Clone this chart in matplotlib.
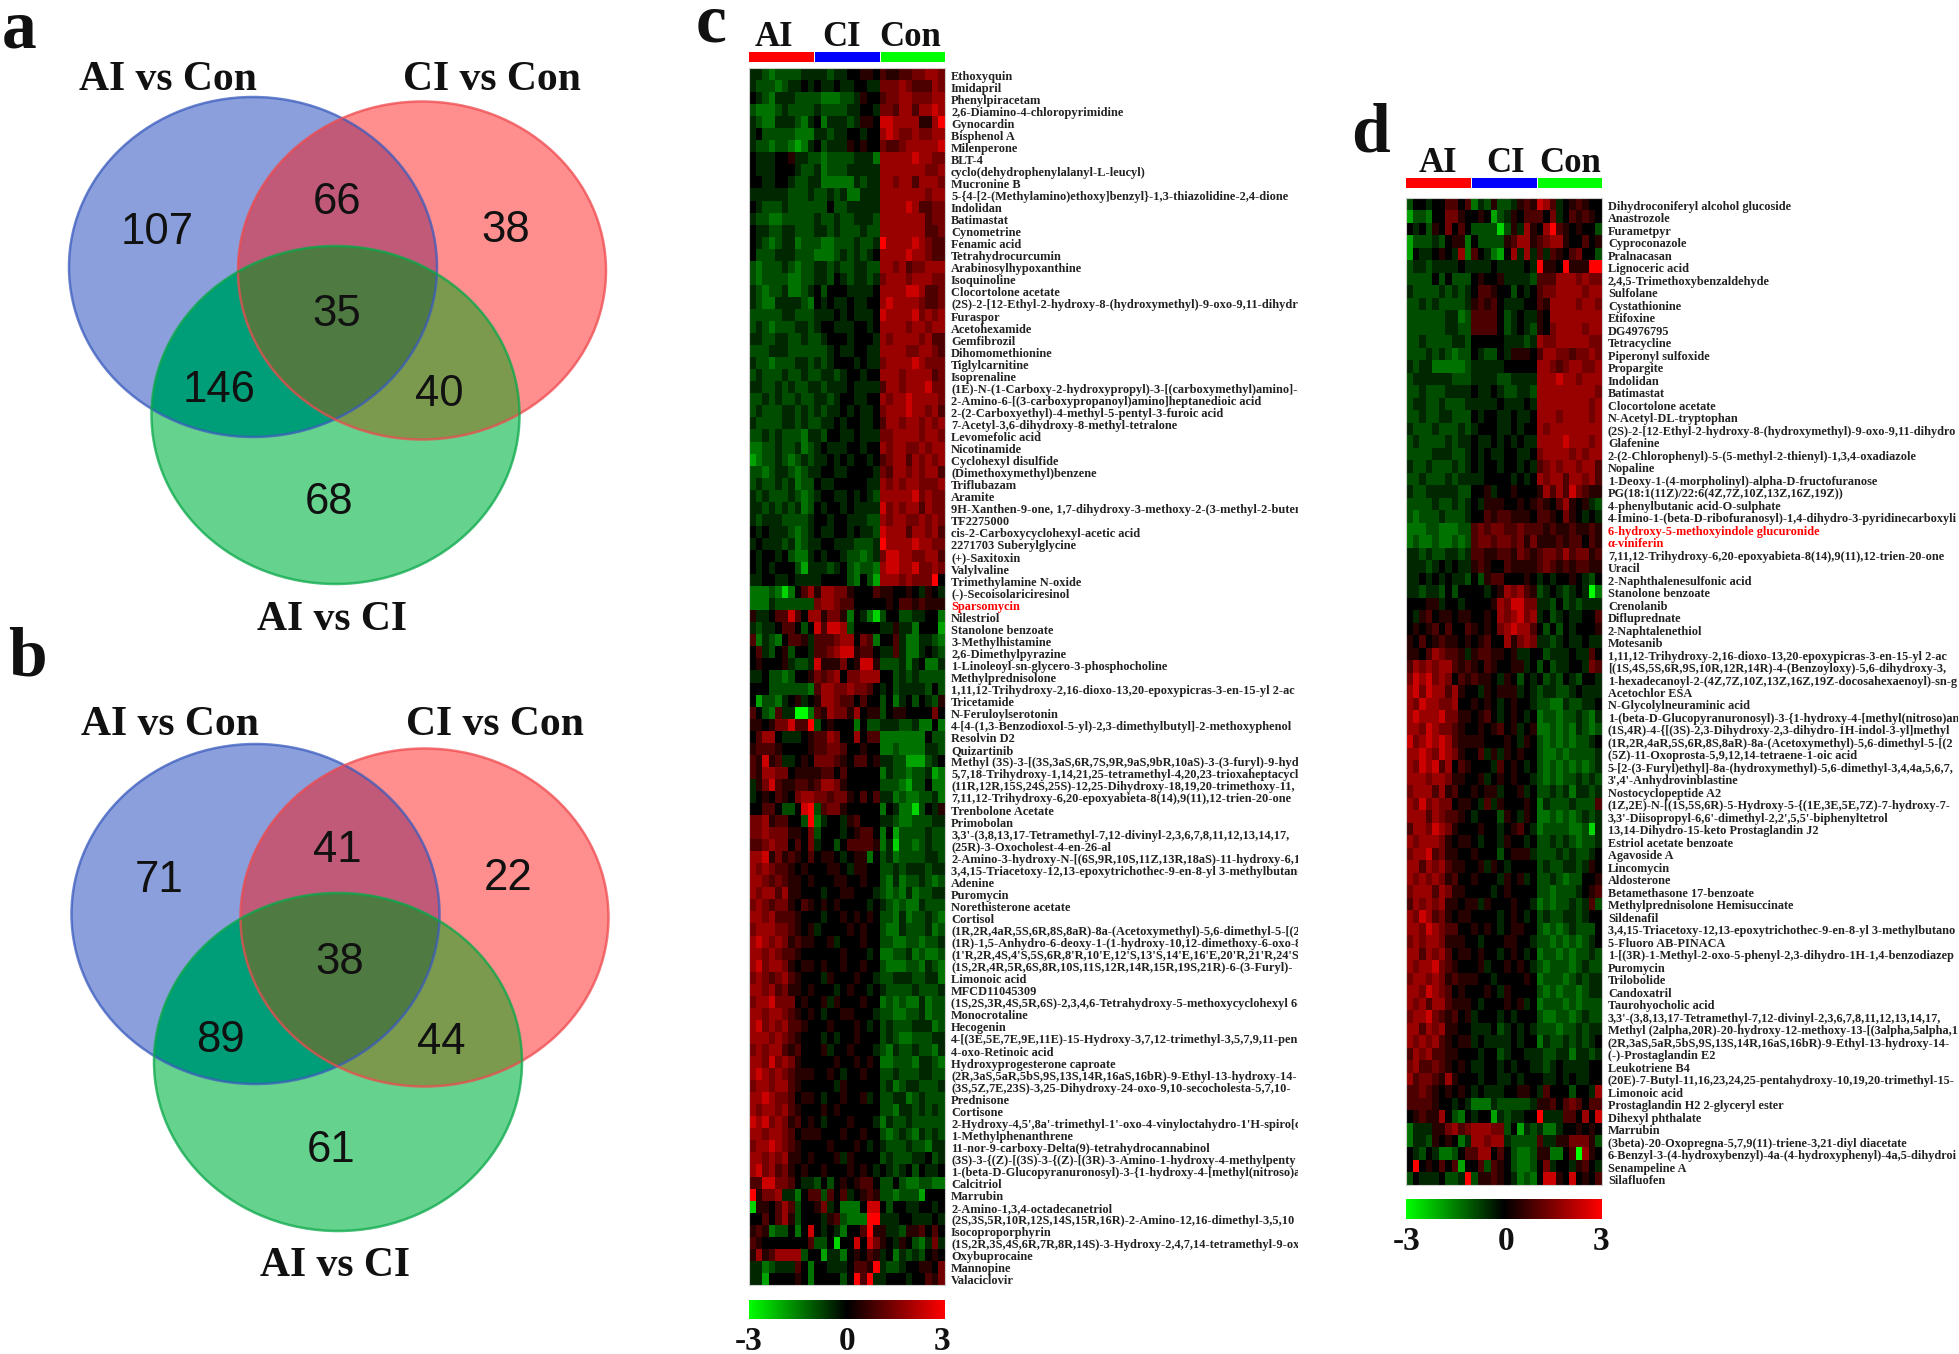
import numpy as np
import matplotlib
matplotlib.use("Agg")
import matplotlib.pyplot as plt
from matplotlib.colors import LinearSegmentedColormap
from matplotlib.patches import Ellipse, Polygon, Rectangle

W, H = 1959, 1354
SERIF = "Liberation Serif"
SANS = "Liberation Sans"

# ---------- data ----------
venn_names = ["AI vs Con", "CI vs Con", "AI vs CI"]
venn_a_counts = [107, 66, 38, 35, 146, 40, 68]
venn_b_counts = [71, 41, 22, 38, 89, 44, 61]
groups = ["AI", "CI", "Con"]
scale_ticks = [-3, 0, 3]

labels_c = [
"Ethoxyquin","Imidapril","Phenylpiracetam","2,6-Diamino-4-chloropyrimidine","Gynocardin","Bisphenol A","Milenperone","BLT-4",
"cyclo(dehydrophenylalanyl-L-leucyl)","Mucronine B","5-{4-[2-(Methylamino)ethoxy]benzyl}-1,3-thiazolidine-2,4-dione","Indolidan",
"Batimastat","Cynometrine","Fenamic acid","Tetrahydrocurcumin","Arabinosylhypoxanthine","Isoquinoline","Clocortolone acetate",
"(2S)-2-[12-Ethyl-2-hydroxy-8-(hydroxymethyl)-9-oxo-9,11-dihydro","Furaspor","Acetohexamide","Gemfibrozil","Dihomomethionine",
"Tiglylcarnitine","Isoprenaline","(1E)-N-(1-Carboxy-2-hydroxypropyl)-3-[(carboxymethyl)amino]-5",
"2-Amino-6-[(3-carboxypropanoyl)amino]heptanedioic acid","2-(2-Carboxyethyl)-4-methyl-5-pentyl-3-furoic acid",
"7-Acetyl-3,6-dihydroxy-8-methyl-tetralone","Levomefolic acid","Nicotinamide","Cyclohexyl disulfide","(Dimethoxymethyl)benzene",
"Triflubazam","Aramite","9H-Xanthen-9-one, 1,7-dihydroxy-3-methoxy-2-(3-methyl-2-butenyl","TF2275000",
"cis-2-Carboxycyclohexyl-acetic acid","2271703 Suberylglycine","(+)-Saxitoxin","Valylvaline","Trimethylamine N-oxide",
"(-)-Secoisolariciresinol","Sparsomycin","Nilestriol","Stanolone benzoate","3-Methylhistamine","2,6-Dimethylpyrazine",
"1-Linoleoyl-sn-glycero-3-phosphocholine","Methylprednisolone","1,11,12-Trihydroxy-2,16-dioxo-13,20-epoxypicras-3-en-15-yl 2-ac",
"Tricetamide","N-Feruloylserotonin","4-[4-(1,3-Benzodioxol-5-yl)-2,3-dimethylbutyl]-2-methoxyphenol","Resolvin D2","Quizartinib",
"Methyl (3S)-3-[(3S,3aS,6R,7S,9R,9aS,9bR,10aS)-3-(3-furyl)-9-hyd","5,7,18-Trihydroxy-1,14,21,25-tetramethyl-4,20,23-trioxaheptacyclo",
"(11R,12R,15S,24S,25S)-12,25-Dihydroxy-18,19,20-trimethoxy-11,","7,11,12-Trihydroxy-6,20-epoxyabieta-8(14),9(11),12-trien-20-one",
"Trenbolone Acetate","Primobolan","3,3'-(3,8,13,17-Tetramethyl-7,12-divinyl-2,3,6,7,8,11,12,13,14,17,","(25R)-3-Oxocholest-4-en-26-al",
"2-Amino-3-hydroxy-N-[(6S,9R,10S,11Z,13R,18aS)-11-hydroxy-6,1","3,4,15-Triacetoxy-12,13-epoxytrichothec-9-en-8-yl 3-methylbutano",
"Adenine","Puromycin","Norethisterone acetate","Cortisol","(1R,2R,4aR,5S,6R,8S,8aR)-8a-(Acetoxymethyl)-5,6-dimethyl-5-[(2",
"(1R)-1,5-Anhydro-6-deoxy-1-(1-hydroxy-10,12-dimethoxy-6-oxo-8","(1'R,2R,4S,4'S,5S,6R,8'R,10'E,12'S,13'S,14'E,16'E,20'R,21'R,24'S)",
"(1S,2R,4R,5R,6S,8R,10S,11S,12R,14R,15R,19S,21R)-6-(3-Furyl)-","Limonoic acid","MFCD11045309",
"(1S,2S,3R,4S,5R,6S)-2,3,4,6-Tetrahydroxy-5-methoxycyclohexyl 6-","Monocrotaline","Hecogenin",
"4-[(3E,5E,7E,9E,11E)-15-Hydroxy-3,7,12-trimethyl-3,5,7,9,11-pen","4-oxo-Retinoic acid","Hydroxyprogesterone caproate",
"(2R,3aS,5aR,5bS,9S,13S,14R,16aS,16bR)-9-Ethyl-13-hydroxy-14-","(3S,5Z,7E,23S)-3,25-Dihydroxy-24-oxo-9,10-secocholesta-5,7,10-",
"Prednisone","Cortisone","2-Hydroxy-4,5',8a'-trimethyl-1'-oxo-4-vinyloctahydro-1'H-spiro[cy","1-Methylphenanthrene",
"11-nor-9-carboxy-Delta(9)-tetrahydrocannabinol","(3S)-3-{(Z)-[(3S)-3-{(Z)-[(3R)-3-Amino-1-hydroxy-4-methylpenty",
"1-(beta-D-Glucopyranuronosyl)-3-{1-hydroxy-4-[methyl(nitroso)an","Calcitriol","Marrubin","2-Amino-1,3,4-octadecanetriol",
"(2S,3S,5R,10R,12S,14S,15R,16R)-2-Amino-12,16-dimethyl-3,5,10","Isocoproporphyrin",
"(1S,2R,3S,4S,6R,7R,8R,14S)-3-Hydroxy-2,4,7,14-tetramethyl-9-ox","Oxybuprocaine","Mannopine","Valaciclovir",
]
labels_d = [
"Dihydroconiferyl alcohol glucoside","Anastrozole","Furametpyr","Cyproconazole","Pralnacasan","Lignoceric acid",
"2,4,5-Trimethoxybenzaldehyde","Sulfolane","Cystathionine","Etifoxine","DG4976795","Tetracycline","Piperonyl sulfoxide","Propargite",
"Indolidan","Batimastat","Clocortolone acetate","N-Acetyl-DL-tryptophan","(2S)-2-[12-Ethyl-2-hydroxy-8-(hydroxymethyl)-9-oxo-9,11-dihydro",
"Glafenine","2-(2-Chlorophenyl)-5-(5-methyl-2-thienyl)-1,3,4-oxadiazole","Nopaline","1-Deoxy-1-(4-morpholinyl)-alpha-D-fructofuranose",
"PG(18:1(11Z)/22:6(4Z,7Z,10Z,13Z,16Z,19Z))","4-phenylbutanic acid-O-sulphate","4-Imino-1-(beta-D-ribofuranosyl)-1,4-dihydro-3-pyridinecarboxyli",
"6-hydroxy-5-methoxyindole glucuronide","α-viniferin","7,11,12-Trihydroxy-6,20-epoxyabieta-8(14),9(11),12-trien-20-one","Uracil",
"2-Naphthalenesulfonic acid","Stanolone benzoate","Crenolanib","Difluprednate","2-Naphtalenethiol","Motesanib",
"1,11,12-Trihydroxy-2,16-dioxo-13,20-epoxypicras-3-en-15-yl 2-ac","[(1S,4S,5S,6R,9S,10R,12R,14R)-4-(Benzoyloxy)-5,6-dihydroxy-3,",
"1-hexadecanoyl-2-(4Z,7Z,10Z,13Z,16Z,19Z-docosahexaenoyl)-sn-g","Acetochlor ESA","N-Glycolylneuraminic acid",
"1-(beta-D-Glucopyranuronosyl)-3-{1-hydroxy-4-[methyl(nitroso)an","(1S,4R)-4-{[(3S)-2,3-Dihydroxy-2,3-dihydro-1H-indol-3-yl]methyl",
"(1R,2R,4aR,5S,6R,8S,8aR)-8a-(Acetoxymethyl)-5,6-dimethyl-5-[(2","(5Z)-11-Oxoprosta-5,9,12,14-tetraene-1-oic acid",
"5-[2-(3-Furyl)ethyl]-8a-(hydroxymethyl)-5,6-dimethyl-3,4,4a,5,6,7,","3',4'-Anhydrovinblastine","Nostocyclopeptide A2",
"(1Z,2E)-N-[(1S,5S,6R)-5-Hydroxy-5-{(1E,3E,5E,7Z)-7-hydroxy-7-","3,3'-Diisopropyl-6,6'-dimethyl-2,2',5,5'-biphenyltetrol",
"13,14-Dihydro-15-keto Prostaglandin J2","Estriol acetate benzoate","Agavoside A","Lincomycin","Aldosterone","Betamethasone 17-benzoate",
"Methylprednisolone Hemisuccinate","Sildenafil","3,4,15-Triacetoxy-12,13-epoxytrichothec-9-en-8-yl 3-methylbutano","5-Fluoro AB-PINACA",
"1-[(3R)-1-Methyl-2-oxo-5-phenyl-2,3-dihydro-1H-1,4-benzodiazep","Puromycin","Trilobolide","Candoxatril","Taurohyocholic acid",
"3,3'-(3,8,13,17-Tetramethyl-7,12-divinyl-2,3,6,7,8,11,12,13,14,17,","Methyl (2alpha,20R)-20-hydroxy-12-methoxy-13-[(3alpha,5alpha,1",
"(2R,3aS,5aR,5bS,9S,13S,14R,16aS,16bR)-9-Ethyl-13-hydroxy-14-","(-)-Prostaglandin E2","Leukotriene B4",
"(20E)-7-Butyl-11,16,23,24,25-pentahydroxy-10,19,20-trimethyl-15-","Limonoic acid","Prostaglandin H2 2-glyceryl ester","Dihexyl phthalate",
"Marrubin","(3beta)-20-Oxopregna-5,7,9(11)-triene-3,21-diyl diacetate","6-Benzyl-3-(4-hydroxybenzyl)-4a-(4-hydroxyphenyl)-4a,5-dihydroi",
"Senampeline A","Silafluofen",
]
red_labels = ["Sparsomycin", "6-hydroxy-5-methoxyindole glucuronide", "α-viniferin"]

# cell values read by eye: one character per cell, decoded through cell_levels
cell_codes = "0123456789abc"
cell_levels = [-3, -2.5, -1.9, -1.35, -0.9, -0.45, 0, 0.45, 0.9, 1.35, 1.8, 2.4, 3]
heat_c = [
"5543444455 5545566776 8778899aa9","5444345565 6556556655 999a9888a9","6543555444 4333445766 899aa999aa",
"4333454444 5444455665 998aa8aaba","5433555435 6355545776 bbaaaa77ac","5644444333 5545566566 aba99a99aa",
"5443443235 6455576766 9889aaaaab","6555667554 4344445553 aaaaabaa99","6555666544 5344455555 aaaaaaa99a",
"6655665445 5333335455 aa9aa8aaa9","5555554445 4454533555 aaaaaaa9aa","6544454444 4464455555 aaaaba8899",
"5443344444 5445445554 aaaaaaa899","6554455444 5545444544 aaaaaaa889","6543455344 4334445445 caaaaba988",
"6444555444 3334545456 aaaabaa988","4344454344 5545445544 aa9a899aaa","4344443344 5546545545 9aaa9aaa99",
"5434453345 6466655556 aaaabba889","5433555543 6565565566 abaaaa9889","4444455444 5556565556 baaaab9a9a",
"4543444554 5665556656 aaaa9aa9aa","5544554454 4566656665 a9aaaa9a88","4445554444 4456556655 aaaa99aa98",
"5443444554 5456665655 9aaaaba999","4544454454 4554566566 aaa9aaaa89","5544545445 5455565555 8aa9aaab99",
"4454544544 5545665566 a9aabaaaa9","4544455454 5455656556 9aaabaa9a8","5444455454 4556566556 8aa9aa9a9a",
"4454544435 5466556555 99aaaa9aa9","3344544534 5655566566 a9aa99a9aa","2344543454 5565656656 89aa8a9a9a",
"4434554345 5665566665 98aa9a9aa8","4544545344 6556666655 a9a9aa999a","5454445434 5665565654 aaaaab9a99",
"5545454534 6566565555 b9a9aa8a99","5455544445 6656655544 a9aa99a9a9","6565554345 6556656554 baaa8aa9a8",
"5655545345 5665554445 caaaabaa99","6566564335 6566544345 9bbaa99aa8","6565666425 5545643443 abbaab99a9",
"5566556555 5666643642 aaa9a999c6","333431368a 7aa9976668 7766765765","3335444444 9aa9886666 6768878777",
"755688b86a a799736531 4664455663","5455688646 b8bba46666 5575536662","8354368875 8889aa6983 6685335543",
"6854674665 889abb7886 5585335654","6766675445 b777967bb7 4445356335","5564434667 989a699aaa 6645454444",
"6664444443 8aa99a9986 5645555464","6244356756 7aa9886866 4635646547","8643855003 87a997a677 4677666696",
"776799b88c 4676663644 5554453363","68aa655567 88a966a688 3333333644","7888766667 8899866766 3343333554",
"87b7855676 9998768867 5544222456","87aa996777 7886866666 3544344523","579b877887 8aa9766666 4443244633",
"567687 69aa 9989976868 5534334453","66886446bc 4899766666 3653314657","99a788664c 3566578666 5543344455",
"99a9997769 4666567886 3624444544","889a996869 5664688887 3514434544","aab7978768 6776567736 4534444554",
"a9a9887676 6677657766 4454555455","aa98987767 6667766766 4353445434","a9aa8a7766 6566776665 4343534455",
"9a98997687 6767666656 5434335444","aa9a888766 6566767676 4435344543","9aaa998767 5666676766 4335444534",
"aba9a97877 6675666766 4433443445","aa9a988766 6666766656 3344534334","ab9aa97677 6766766766 4333443543",
"9a989a8766 6576667665 4455544553","aa9a897767 6665676656 5444454445","9aab999676 6757666766 3434335344",
"aa9aa98767 6566776665 4433445344","ab9a9a8876 6676667656 4544455534","aaa9a98766 6565667666 4543344455",
"9a9aa87866 6756676665 4354454435","aa9b9a9766 6667667676 3344435543","aba9a98777 6676566766 4454445544",
"9aa9aa8766 6665766666 4534554445","aaba998677 6566766756 4455345444","a9aa9a8766 6767666666 4435545454",
"bab9a97867 6566676665 3544544444","aa9aa98677 7666766766 4345435454","9aaba98766 6676667656 5444544355",
"aa9a9a7767 6667576666 4544455645","ab9a897676 6766676765 6545646556","88bb998655 4646767886 4464334433",
"c799a55368 8486856787 4434442666","1776 8a8466 7956333 6bb 6466556656","66868a7466 6578433 3cc 5556655565",
"787344636b 6565366 8c7 7554778686","8766666668 4461 66b6b9 7657643595","7a78aaaa46 6255367687 5635454676",
"5534555863 66555688 7c 5445667769","5526666763 6666 46c8c5 5666566879",
]
heat_d = [
"4665668868 3547445787 ba85678766","2443669976 6762457688 8695687876","6564769686 44441475a7 6ac8767664",
"2444546773 6444478aa7 89aa766867","26556765a3 865326a5a5 8587689664","4554555565 5556555565 c776c777cc",
"4444646444 6766755554 888aaa9a99","5444454545 6887664656 899aaaa9aa","4454544445 7878655566 87aaaa9aa9",
"4444445534 8888645655 76aaaaaaaa","4444445544 8888645654 769aaaa9aa","4454444554 6666655545 a99aaaaa99",
"4445454344 6544657776 8aa99899a9","5455333334 5555566666 aa989aa99a","4555555444 5555445555 aaabaa9aaa",
"4454445555 6556544554 aaaaaaaaa9","4554454445 5555655565 aaaaaaaa9a","4454455444 6566556556 aaa9aaaa9a",
"5444544454 5666556566 a9aaaaaaaa","4544445455 6556565655 aaaabaaa9a","4444555445 6565566556 9aaaa9a9aa",
"5445444545 6566566565 89a9aa9aa8","4454445455 5566665656 a9aa8aa9a8","5445555544 6675667666 7a8a8b9877",
"4444544545 6577766767 8768a76754","4344454445 6687887776 8876976565","3334433344 8989988988 8787787787",
"3433433434 8998998979 7778788687","5545445545 8877887987 8998a89978","5554565655 7876687777 8987878877",
"5565656554 6478866676 5656676546","5545546466 66567a9a87 4565456503","6667756656 6667a9bb99 5546454555",
"6578677677 6676a9ab9a 5645655668","6767868668 76769abaa8 6464656667","7686787767 67866a79a9 5545655655",
"7768a98875 7887767556 6455565586","8a9a9aa878 7687667756 4645566598","9bab9a9687 8776576465 6454654665",
"ab9baa8a76 6576777565 4554456555","a9baa99a66 7676567665 4433544556","abaaab9977 6786567656 3443445435",
"aa9ba99876 6767867567 3343435434","b9ababa877 7766676576 4343434456","aaba9ba976 6857576766 4334344445",
"a9bab8a687 6665867656 4343434345","aaa9aa9776 6756767665 4343445454","9aaa8a7866 7677566756 4454535545",
"a9b9a99677 6585766676 3544454448","aaa8a98876 5666476576 3343434545","8aa9ba9766 6766567865 3444433415",
"a9aaa97677 6566576656 4454543445","9aab897766 7666467775 4445454456","aa8a9a8776 6757656666 4544554576",
"a9a9a97866 7666576756 4454344667","9aaa8a9776 6665676666 4434445678","8a9a9a7767 7576667665 3434454584",
"a9ba897677 6666567656 4544554566","aa9ba98866 7676567766 4343454446","9a9aa97776 6566677665 4434343456",
"aa8a9a8677 6766567656 3443434454","a9aab98766 6756676765 4344434544","9aa9a97877 7665666676 3444345455",
"aa9ba98676 6676576666 4343443455","a9a8aa8777 6566676756 3444343444","9aab987867 5666565666 4334434544",
"aa8a9a7766 5556456565 4443445455","a9a9a87677 5655556566 3544545456","8a9a887766 6566456655 5445535545",
"9a88987676 5566565665 5456555566","a89987a766 6566556566 6556565566","8898767676 5655566776 586664665a",
"8888766565 3335444445 7786898688","6787 7a6436 5662545566 c555886a6b","3555779a8 9 aaa994 6254 5335667676",
"3554767635 aa9aa54444 8557799974","6546533468 8aa6864334 7733680a76","6c6768682 6 6848764334 6956657865",
"465556445c 4778765343 6bb76b6768",
]

# ---------- layout helpers ----------
plt.rcParams["font.family"] = [SERIF, "DejaVu Serif"]
fig = plt.figure(figsize=(W / 100, H / 100), dpi=100, facecolor="white")


def px_axes(x0, y0, x1, y1):
    return fig.add_axes([x0 / W, 1 - y1 / H, (x1 - x0) / W, (y1 - y0) / H])


bg = px_axes(0, 0, W, H)
bg.set_xlim(0, W)
bg.set_ylim(H, 0)
bg.axis("off")

cmap = LinearSegmentedColormap.from_list("gbr", ["#00ff00", "#000000", "#ff0000"])


def decode(rows):
    return np.array([[cell_levels[cell_codes.index(ch)] for ch in r.replace(" ", "")] for r in rows])


def region(ells, p, n=720):
    """Outline of the convex overlap of the ellipses, seen from inner point p."""
    th = np.linspace(0, 2 * np.pi, n, endpoint=False)
    c, s = np.cos(th), np.sin(th)
    rmin = np.full(n, np.inf)
    for (cx, cy, rx, ry) in ells:
        dx, dy = (p[0] - cx) / rx, (p[1] - cy) / ry
        a = (c / rx) ** 2 + (s / ry) ** 2
        b = 2 * (dx * c / rx + dy * s / ry)
        k = dx ** 2 + dy ** 2 - 1
        r = (-b + np.sqrt(b ** 2 - 4 * a * k)) / (2 * a)
        rmin = np.minimum(rmin, r)
    return np.column_stack([p[0] + rmin * c, p[1] + rmin * s])


def venn(dx, dy, counts, name_pos, count_pos):
    B = (253 + dx, 267 + dy, 184, 170)
    R = (422 + dx, 270.5 + dy, 184, 169)
    G = (335.5 + dx, 415 + dy, 184, 169)
    fills = [(B, "#8A9FDB"), (R, "#FF8E8E"), (G, "#65D28D")]
    for (e, col) in fills:
        bg.add_patch(Ellipse(e[:2], 2 * e[2], 2 * e[3], fc=col, ec="none", zorder=2))
    bg.add_patch(Polygon(region([B, R], count_pos[1]), fc="#C05A78", ec="none", zorder=3))
    bg.add_patch(Polygon(region([B, G], count_pos[4]), fc="#009E78", ec="none", zorder=3))
    bg.add_patch(Polygon(region([R, G], count_pos[5]), fc="#7B9A4E", ec="none", zorder=3))
    bg.add_patch(Polygon(region([B, R, G], count_pos[3]), fc="#4F7A42", ec="none", zorder=4))
    for (e, col) in [(B, "#3A5BBE"), (R, "#EE4A4E"), (G, "#0AA84A")]:
        bg.add_patch(Ellipse(e[:2], 2 * e[2], 2 * e[3], fc="none", ec=col, lw=1.8, alpha=0.75, zorder=5))
    for v, (x, y) in zip(counts, count_pos):
        bg.text(x, y + 4, str(v), family=SANS, fontsize=31.5, ha="center", va="center", color="#111111", zorder=6)
    for nm, (x, y) in zip(venn_names, name_pos):
        bg.text(x, y + 4, nm, fontsize=30, fontweight="bold", ha="center", va="center", color="#111111", zorder=6)


venn(0, 0, venn_a_counts,
     [(168, 76), (492, 76), (332, 616)],
     [(157, 229), (337, 199), (506, 227), (337, 311), (219, 387), (439, 391), (329, 499)])
venn(2.5, 647, venn_b_counts,
     [(170, 721), (495, 721), (335, 1262)],
     [(159, 877), (337, 846), (508, 875), (340, 958), (221, 1036), (441, 1038), (331, 1147)])


def heatmap(rows, labels, box, bar_y, title_x, title_y, lab_x0, lab_x1, lab_fs, scale_y, tick_x, tick_y):
    x0, y0, x1, y1 = box
    data = decode(rows)
    ax = px_axes(x0, y0, x1, y1)
    ax.imshow(data, cmap=cmap, vmin=-3, vmax=3, aspect="auto", interpolation="nearest")
    ax.set_xticks([])
    ax.set_yticks([])
    for sp in ax.spines.values():
        sp.set_color("#cfcfcf")
        sp.set_linewidth(0.8)
    # sample-group strip and names
    n = data.shape[1] // len(groups)
    cw = (x1 - x0) / data.shape[1]
    for i, (g, col) in enumerate(zip(groups, ["#ff0000", "#0000ff", "#00ff00"])):
        bg.add_patch(Rectangle((x0 + i * n * cw + (1 if i else 0), bar_y[0]), n * cw - (1 if i else 0), bar_y[1] - bar_y[0],
                               fc=col, ec="none"))
        bg.text(title_x[i], title_y, g, fontsize=25, fontweight="bold", ha="center", va="center", color="#111111")
    # row labels
    la = px_axes(lab_x0, y0 + 2.5, lab_x1, y1 + 2.5)
    la.set_xlim(0, 1)
    la.set_ylim(len(labels) - 0.5, -0.5)
    la.axis("off")
    for i, t in enumerate(labels):
        la.text(0, i, t, fontsize=lab_fs, fontweight="bold", ha="left", va="center",
                color="#ff0000" if t in red_labels else "#222222", clip_on=True)
    # colour scale
    cb = px_axes(x0, scale_y[0], x1, scale_y[1])
    cb.imshow(np.linspace(-3, 3, 256)[None, :], cmap=cmap, vmin=-3, vmax=3, aspect="auto")
    cb.axis("off")
    for v, x in zip(scale_ticks, tick_x):
        bg.text(x, tick_y, str(v), fontsize=24, fontweight="bold", ha="center", va="center", color="#111111")


heatmap(heat_c, labels_c, (749, 68, 945, 1285), (52, 62), (774, 841, 910), 38,
        951, 1298, 8.9, (1300, 1319), (749, 847, 942), 1341)
heatmap(heat_d, labels_d, (1406, 198, 1602, 1185), (178, 188), (1438, 1506, 1570), 164,
        1608, 1958, 8.8, (1199, 1219), (1407, 1506, 1601), 1241)

for t, x, y in [("a", 19, 30), ("b", 27, 659), ("c", 711, 25), ("d", 1371, 134)]:
    bg.text(x, y, t, fontsize=50, fontweight="bold", ha="center", va="center", color="#111111")

fig.savefig("out.png", dpi=100, facecolor="white")
